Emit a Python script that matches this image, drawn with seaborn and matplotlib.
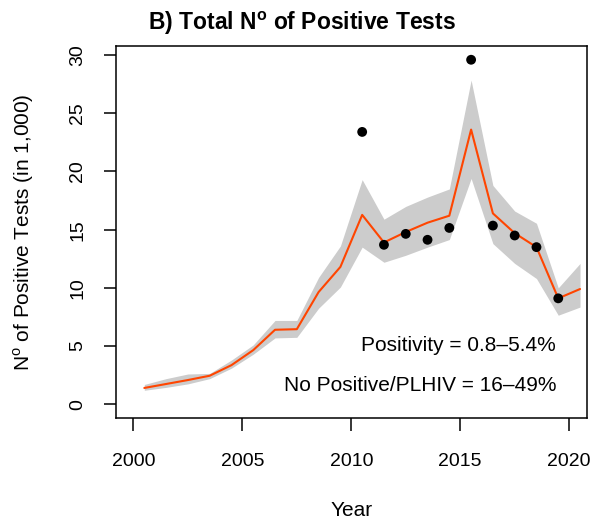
import numpy as np
import pandas as pd
import seaborn as sns
import matplotlib.pyplot as plt

# datos
years = list(range(2000, 2021))
median = [1.4, 1.74, 2.08, 2.45, 3.36, 4.65, 6.4, 6.45, 9.64, 11.8,
          16.27, 13.9, 14.8, 15.6, 16.2, 23.6, 16.4, 14.7, 13.5, 9.1, 9.9]
lower = [1.2, 1.45, 1.75, 2.2, 3.1, 4.3, 5.7, 5.75, 8.25, 10.07,
         13.5, 12.2, 12.8, 13.5, 14.15, 19.4, 13.8, 12.1, 10.8, 7.65, 8.35]
upper = [1.7, 2.2, 2.6, 2.65, 3.8, 5.1, 7.2, 7.2, 10.9, 13.6,
         19.3, 15.9, 17.0, 17.8, 18.5, 27.85, 18.8, 16.6, 15.55, 10.0, 12.1]
obs_years = list(range(2010, 2020))
observed = [23.4, 13.7, 14.64, 14.13, 15.15, 29.6, 15.35, 14.5, 13.5, 9.1]

df = pd.DataFrame({"x": np.array(years) + 0.5, "med": median, "lo": lower, "hi": upper})
df_obs = pd.DataFrame({"x": np.array(obs_years) + 0.5, "obs": observed})

sns.set_style("ticks")
plt.rcParams['font.family'] = ['Liberation Sans', 'DejaVu Sans']
plt.rcParams['mathtext.fontset'] = 'custom'
plt.rcParams['mathtext.rm'] = 'Liberation Sans'
plt.rcParams['mathtext.bf'] = 'Liberation Sans:bold'
plt.rcParams['text.color'] = 'black'
plt.rcParams['axes.labelcolor'] = 'black'
plt.rcParams['xtick.color'] = 'black'
plt.rcParams['ytick.color'] = 'black'

fig = plt.figure(figsize=(6.01, 5.23), dpi=100)
ax = fig.add_axes([0.193, 0.2008, 0.783, 0.7112])

ax.fill_between(df["x"], df["lo"], df["hi"], color="#cccccc", linewidth=0)
sns.lineplot(x="x", y="med", data=df, ax=ax, color="#ff4500", linewidth=1.5)
sns.scatterplot(x="x", y="obs", data=df_obs, ax=ax, color="black", s=50, edgecolor="none", zorder=5)

ax.set_xlim(1999.2, 2020.8)
ax.set_ylim(-1.18, 30.78)
ax.set_xticks([2000, 2005, 2010, 2015, 2020])
ax.set_yticks([0, 5, 10, 15, 20, 25, 30])
ax.tick_params(axis="both", labelsize=14, length=9, width=1.1, color="black")
ax.tick_params(axis="x", pad=16.5)
ax.tick_params(axis="y", pad=12.5)
for lab in ax.get_yticklabels():
    lab.set_rotation(90)
    lab.set_va("center")
for s in ax.spines.values():
    s.set_visible(True)
    s.set_linewidth(1.1)
    s.set_color("black")

ax.set_xlabel("Year", fontsize=15, labelpad=22)
ax.set_ylabel(r"N$^{\mathrm{o}}$ of Positive Tests (in 1,000)", fontsize=15, labelpad=24)
fig.text(0.502, 0.956, r"B) Total N$^{\mathbf{o}}$ of Positive Tests", fontsize=16.5,
         fontweight="bold", ha="center", va="center")

ax.text(2019.4, 5.08, "Positivity = 0.8\u20135.4%", fontsize=15, ha="right", va="center")
ax.text(2019.4, 1.65, "No Positive/PLHIV = 16\u201349%", fontsize=15, ha="right", va="center")

plt.savefig("out.png", dpi=100)
